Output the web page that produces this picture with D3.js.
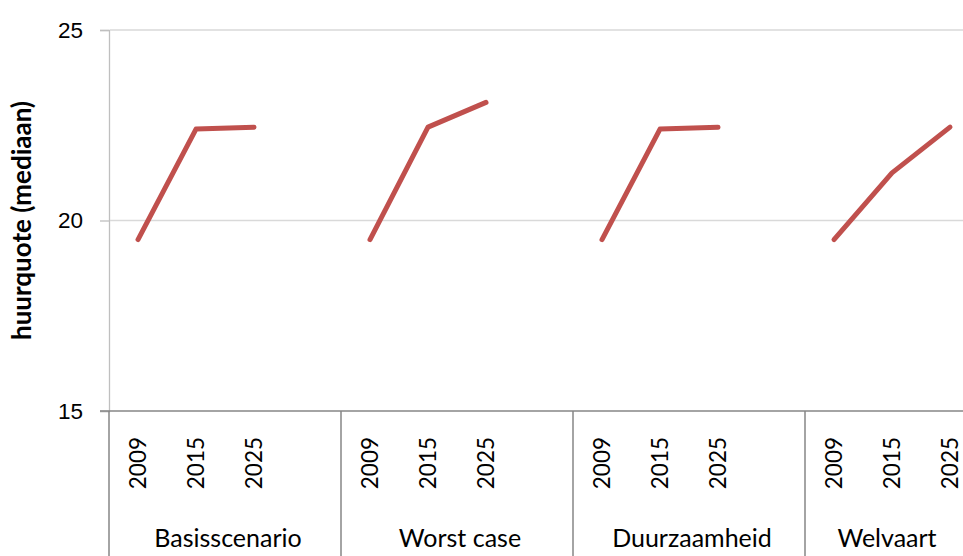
<!DOCTYPE html>
<html>
<head>
<meta charset="utf-8">
<script src="https://cdn.jsdelivr.net/npm/d3@7"></script>
<style>
  html, body { margin: 0; padding: 0; background: #fff; }
  svg { display: block; font-family: Lato, "Open Sans", sans-serif; }
  .num-label { font-size: 22.5px; fill: #000; }
  .group-label { font-size: 25px; fill: #000; }
  .axis-title { font-size: 26px; font-weight: bold; fill: #000; }
</style>
</head>
<body>
<div id="chart"></div>
<script>
// huurquote per scenario
const groups = ["Basisscenario", "Worst case", "Duurzaamheid", "Welvaart"];
const years = ["2009", "2015", "2025"];
const basisscenario = [19.5, 22.4, 22.45];
const worstCase = [19.5, 22.45, 23.1];
const duurzaamheid = [19.5, 22.4, 22.45];
const welvaart = [19.5, 21.25, 22.45];
const yTicks = [15, 20, 25];

const series = [basisscenario, worstCase, duurzaamheid, welvaart];

const W = 963, H = 556;
const M = { left: 109, top: 30, bottom: 411, right: 1037 }; // plot runs past the window edge

const svg = d3.select("#chart").append("svg")
  .attr("width", W).attr("height", H);

const y = d3.scaleLinear().domain([15, 25]).range([M.bottom, M.top]);
// each group holds the three years plus one empty slot
const gx = d3.scaleBand().domain(groups).range([M.left, M.right]);
const sx = d3.scaleBand().domain([...years, ""]).range([0, gx.bandwidth()]);
const xPos = (g, yr) => gx(g) + sx(yr) + sx.bandwidth() / 2;

// y axis
const yAxis = svg.append("g")
  .attr("transform", `translate(${M.left},0)`)
  .call(d3.axisLeft(y).tickValues(yTicks).tickSize(9).tickPadding(17));
yAxis.select(".domain").attr("stroke", "#bfbfbf").attr("stroke-width", 1.3);
yAxis.selectAll(".tick line").attr("stroke", "#bfbfbf").attr("stroke-width", 1.3);
yAxis.selectAll(".tick text").attr("class", "num-label");

// gridlines
svg.append("g").selectAll("line").data(yTicks.filter(t => t > 15)).enter().append("line")
  .attr("x1", M.left + 1).attr("x2", M.right)
  .attr("y1", d => y(d)).attr("y2", d => y(d))
  .attr("stroke", "#d9d9d9").attr("stroke-width", 1.5);

// x axis baseline and group separators
svg.append("line")
  .attr("x1", M.left - 9).attr("x2", M.right)
  .attr("y1", y(15)).attr("y2", y(15))
  .attr("stroke", "#868686").attr("stroke-width", 1.5);
svg.append("g").selectAll("line").data(groups).enter().append("line")
  .attr("x1", d => gx(d)).attr("x2", d => gx(d))
  .attr("y1", y(15)).attr("y2", H)
  .attr("stroke", "#868686").attr("stroke-width", 1.5);

// year labels (rotated) and group labels, centred in the visible part of each group
groups.forEach(g => {
  svg.append("g").selectAll("text").data(years).enter().append("text")
    .attr("class", "num-label")
    .attr("transform", yr => `translate(${xPos(g, yr)},437) rotate(-90)`)
    .attr("text-anchor", "end").attr("dy", "0.36em")
    .text(yr => yr);
  const x0 = gx(g), x1 = Math.min(gx(g) + gx.bandwidth(), W);
  svg.append("text").attr("class", "group-label")
    .attr("x", (x0 + x1) / 2 + 3)
    .attr("y", 547).attr("text-anchor", "middle")
    .text(g);
});

// lines, one per scenario
const line = d3.line().x(d => d.x).y(d => y(d.v));
series.forEach((vals, i) => {
  const pts = vals.map((v, j) => ({ x: xPos(groups[i], years[j]), v }));
  svg.append("path").attr("d", line(pts))
    .attr("fill", "none").attr("stroke", "#c0504d")
    .attr("stroke-width", 5).attr("stroke-linecap", "round")
    .attr("stroke-linejoin", "round");
});

// y axis title
svg.append("text").attr("class", "axis-title")
  .attr("transform", `translate(22,${(M.top + M.bottom) / 2}) rotate(-90)`)
  .attr("text-anchor", "middle").attr("dy", "0.36em")
  .text("huurquote (mediaan)");
</script>
</body>
</html>
